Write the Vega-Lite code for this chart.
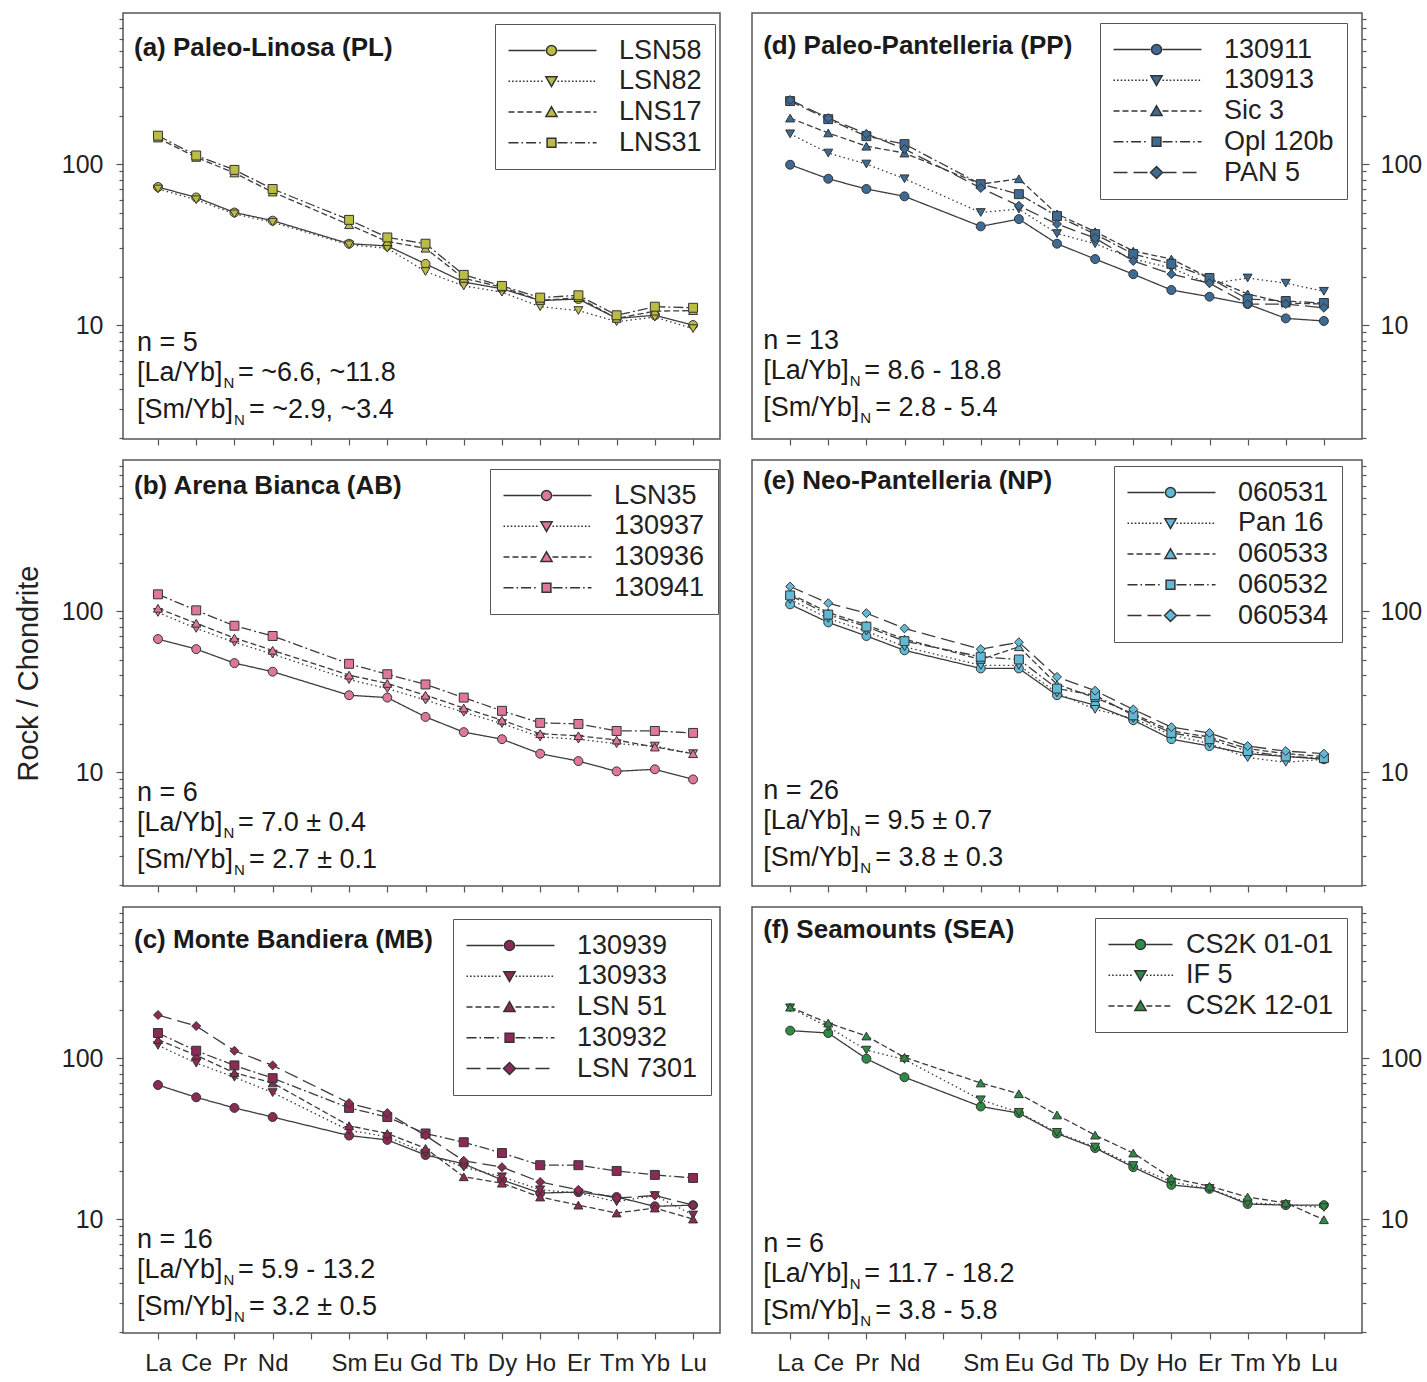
{
"$schema":"https://vega.github.io/schema/vega-lite/v6.json",
"autosize":{"type":"pad"},
"padding":{"left":13,"top":5,"right":0,"bottom":0},
"background":"white",
"bounds":"flush",
"columns":2,
"spacing":{"row":21,"column":32},
"resolve":{"scale":{"shape":"independent","strokeDash":"independent","color":"independent"},"legend":{"shape":"independent","strokeDash":"independent"}},
"config":{
 "font":"Liberation Sans",
 "view":{"stroke":"#555","strokeWidth":1.5},
 "axis":{"labelFont":"Liberation Sans","labelColor":"#222","tickColor":"#555","domain":false,"grid":false,"labelOverlap":false,"tickWidth":1.2},
 "legend":{"labelFont":"Liberation Sans","labelFontSize":27,"labelColor":"#222","padding":13,"rowPadding":2.75,"strokeColor":"#555","fillColor":"#ffffff","symbolSize":64,"labelOffset":84},
 "text":{"font":"Liberation Sans","fontSize":27,"align":"left","baseline":"alphabetic","color":"#1a1a1a"}
},
"datasets":{
"a":[
{"s":"LSN58","e":"La","v":72},{"s":"LSN58","e":"Ce","v":62},{"s":"LSN58","e":"Pr","v":50},{"s":"LSN58","e":"Nd","v":44.5},{"s":"LSN58","e":"Sm","v":32},{"s":"LSN58","e":"Eu","v":31},{"s":"LSN58","e":"Gd","v":24},{"s":"LSN58","e":"Tb","v":18.5},{"s":"LSN58","e":"Dy","v":16.8},{"s":"LSN58","e":"Ho","v":14.2},{"s":"LSN58","e":"Er","v":14.5},{"s":"LSN58","e":"Tm","v":11},{"s":"LSN58","e":"Yb","v":11.5},{"s":"LSN58","e":"Lu","v":10},
{"s":"LSN82","e":"La","v":70},{"s":"LSN82","e":"Ce","v":60},{"s":"LSN82","e":"Pr","v":49},{"s":"LSN82","e":"Nd","v":43.5},{"s":"LSN82","e":"Sm","v":31.5},{"s":"LSN82","e":"Eu","v":30},{"s":"LSN82","e":"Gd","v":21.5},{"s":"LSN82","e":"Tb","v":17.5},{"s":"LSN82","e":"Dy","v":16},{"s":"LSN82","e":"Ho","v":13},{"s":"LSN82","e":"Er","v":12.3},{"s":"LSN82","e":"Tm","v":10.5},{"s":"LSN82","e":"Yb","v":11.2},{"s":"LSN82","e":"Lu","v":9.5},
{"s":"LNS17","e":"La","v":145},{"s":"LNS17","e":"Ce","v":110},{"s":"LNS17","e":"Pr","v":88},{"s":"LNS17","e":"Nd","v":67},{"s":"LNS17","e":"Sm","v":42},{"s":"LNS17","e":"Eu","v":33},{"s":"LNS17","e":"Gd","v":30},{"s":"LNS17","e":"Tb","v":19.5},{"s":"LNS17","e":"Dy","v":17.2},{"s":"LNS17","e":"Ho","v":14.2},{"s":"LNS17","e":"Er","v":14.8},{"s":"LNS17","e":"Tm","v":11},{"s":"LNS17","e":"Yb","v":12.2},{"s":"LNS17","e":"Lu","v":12.3},
{"s":"LNS31","e":"La","v":150},{"s":"LNS31","e":"Ce","v":113},{"s":"LNS31","e":"Pr","v":92},{"s":"LNS31","e":"Nd","v":70},{"s":"LNS31","e":"Sm","v":45},{"s":"LNS31","e":"Eu","v":35},{"s":"LNS31","e":"Gd","v":32},{"s":"LNS31","e":"Tb","v":20.5},{"s":"LNS31","e":"Dy","v":17.5},{"s":"LNS31","e":"Ho","v":14.8},{"s":"LNS31","e":"Er","v":15.3},{"s":"LNS31","e":"Tm","v":11.5},{"s":"LNS31","e":"Yb","v":13},{"s":"LNS31","e":"Lu","v":12.8}
],
"b":[
{"s":"LSN35","e":"La","v":67},{"s":"LSN35","e":"Ce","v":58},{"s":"LSN35","e":"Pr","v":47.5},{"s":"LSN35","e":"Nd","v":42},{"s":"LSN35","e":"Sm","v":30},{"s":"LSN35","e":"Eu","v":29},{"s":"LSN35","e":"Gd","v":22},{"s":"LSN35","e":"Tb","v":17.7},{"s":"LSN35","e":"Dy","v":16},{"s":"LSN35","e":"Ho","v":13},{"s":"LSN35","e":"Er","v":11.7},{"s":"LSN35","e":"Tm","v":10.1},{"s":"LSN35","e":"Yb","v":10.4},{"s":"LSN35","e":"Lu","v":9},
{"s":"130937","e":"La","v":98},{"s":"130937","e":"Ce","v":78},{"s":"130937","e":"Pr","v":64},{"s":"130937","e":"Nd","v":54},{"s":"130937","e":"Sm","v":37.5},{"s":"130937","e":"Eu","v":33},{"s":"130937","e":"Gd","v":28},{"s":"130937","e":"Tb","v":23.5},{"s":"130937","e":"Dy","v":20},{"s":"130937","e":"Ho","v":16.5},{"s":"130937","e":"Er","v":16},{"s":"130937","e":"Tm","v":15},{"s":"130937","e":"Yb","v":14.5},{"s":"130937","e":"Lu","v":13},
{"s":"130936","e":"La","v":104},{"s":"130936","e":"Ce","v":84},{"s":"130936","e":"Pr","v":68},{"s":"130936","e":"Nd","v":57},{"s":"130936","e":"Sm","v":40},{"s":"130936","e":"Eu","v":35.5},{"s":"130936","e":"Gd","v":30},{"s":"130936","e":"Tb","v":25},{"s":"130936","e":"Dy","v":21},{"s":"130936","e":"Ho","v":17.3},{"s":"130936","e":"Er","v":16.8},{"s":"130936","e":"Tm","v":15.8},{"s":"130936","e":"Yb","v":14.3},{"s":"130936","e":"Lu","v":13},
{"s":"130941","e":"La","v":127},{"s":"130941","e":"Ce","v":101},{"s":"130941","e":"Pr","v":81},{"s":"130941","e":"Nd","v":70},{"s":"130941","e":"Sm","v":47},{"s":"130941","e":"Eu","v":40.5},{"s":"130941","e":"Gd","v":35},{"s":"130941","e":"Tb","v":29},{"s":"130941","e":"Dy","v":24},{"s":"130941","e":"Ho","v":20.2},{"s":"130941","e":"Er","v":19.9},{"s":"130941","e":"Tm","v":18},{"s":"130941","e":"Yb","v":18},{"s":"130941","e":"Lu","v":17.5}
],
"c":[
{"s":"130939","e":"La","v":68},{"s":"130939","e":"Ce","v":57},{"s":"130939","e":"Pr","v":49},{"s":"130939","e":"Nd","v":43},{"s":"130939","e":"Sm","v":33},{"s":"130939","e":"Eu","v":31},{"s":"130939","e":"Gd","v":25},{"s":"130939","e":"Tb","v":22},{"s":"130939","e":"Dy","v":17.5},{"s":"130939","e":"Ho","v":14.5},{"s":"130939","e":"Er","v":14.7},{"s":"130939","e":"Tm","v":13.7},{"s":"130939","e":"Yb","v":12},{"s":"130939","e":"Lu","v":12.2},
{"s":"130933","e":"La","v":120},{"s":"130933","e":"Ce","v":93},{"s":"130933","e":"Pr","v":76},{"s":"130933","e":"Nd","v":61},{"s":"130933","e":"Sm","v":35.5},{"s":"130933","e":"Eu","v":32.5},{"s":"130933","e":"Gd","v":25.7},{"s":"130933","e":"Tb","v":21},{"s":"130933","e":"Dy","v":18.3},{"s":"130933","e":"Ho","v":15.2},{"s":"130933","e":"Er","v":14.5},{"s":"130933","e":"Tm","v":12.8},{"s":"130933","e":"Yb","v":14},{"s":"130933","e":"Lu","v":10.6},
{"s":"LSN 51","e":"La","v":130},{"s":"LSN 51","e":"Ce","v":104},{"s":"LSN 51","e":"Pr","v":81},{"s":"LSN 51","e":"Nd","v":70},{"s":"LSN 51","e":"Sm","v":38},{"s":"LSN 51","e":"Eu","v":34},{"s":"LSN 51","e":"Gd","v":27.5},{"s":"LSN 51","e":"Tb","v":18.3},{"s":"LSN 51","e":"Dy","v":16.7},{"s":"LSN 51","e":"Ho","v":13.7},{"s":"LSN 51","e":"Er","v":12.2},{"s":"LSN 51","e":"Tm","v":10.9},{"s":"LSN 51","e":"Yb","v":11.7},{"s":"LSN 51","e":"Lu","v":10},
{"s":"130932","e":"La","v":143},{"s":"130932","e":"Ce","v":111},{"s":"130932","e":"Pr","v":90},{"s":"130932","e":"Nd","v":75},{"s":"130932","e":"Sm","v":49},{"s":"130932","e":"Eu","v":43},{"s":"130932","e":"Gd","v":34},{"s":"130932","e":"Tb","v":30},{"s":"130932","e":"Dy","v":25.7},{"s":"130932","e":"Ho","v":21.6},{"s":"130932","e":"Er","v":21.6},{"s":"130932","e":"Tm","v":19.9},{"s":"130932","e":"Yb","v":18.8},{"s":"130932","e":"Lu","v":18},
{"s":"LSN 7301","e":"La","v":185},{"s":"LSN 7301","e":"Ce","v":158},{"s":"LSN 7301","e":"Pr","v":111},{"s":"LSN 7301","e":"Nd","v":90},{"s":"LSN 7301","e":"Sm","v":52.5},{"s":"LSN 7301","e":"Eu","v":45.5},{"s":"LSN 7301","e":"Gd","v":33},{"s":"LSN 7301","e":"Tb","v":23},{"s":"LSN 7301","e":"Dy","v":21},{"s":"LSN 7301","e":"Ho","v":17},{"s":"LSN 7301","e":"Er","v":15.2},{"s":"LSN 7301","e":"Tm","v":13.5},{"s":"LSN 7301","e":"Yb","v":14},{"s":"LSN 7301","e":"Lu","v":12.2}
],
"d":[
{"s":"130911","e":"La","v":99},{"s":"130911","e":"Ce","v":81},{"s":"130911","e":"Pr","v":70},{"s":"130911","e":"Nd","v":63},{"s":"130911","e":"Sm","v":41},{"s":"130911","e":"Eu","v":45.5},{"s":"130911","e":"Gd","v":32},{"s":"130911","e":"Tb","v":25.7},{"s":"130911","e":"Dy","v":20.7},{"s":"130911","e":"Ho","v":16.5},{"s":"130911","e":"Er","v":15},{"s":"130911","e":"Tm","v":13.5},{"s":"130911","e":"Yb","v":11},{"s":"130911","e":"Lu","v":10.6},
{"s":"130913","e":"La","v":154},{"s":"130913","e":"Ce","v":117},{"s":"130913","e":"Pr","v":100},{"s":"130913","e":"Nd","v":81},{"s":"130913","e":"Sm","v":50},{"s":"130913","e":"Eu","v":52.5},{"s":"130913","e":"Gd","v":37},{"s":"130913","e":"Tb","v":32},{"s":"130913","e":"Dy","v":25.7},{"s":"130913","e":"Ho","v":22.6},{"s":"130913","e":"Er","v":18},{"s":"130913","e":"Tm","v":19.6},{"s":"130913","e":"Yb","v":18.2},{"s":"130913","e":"Lu","v":16.2},
{"s":"Sic 3","e":"La","v":193},{"s":"Sic 3","e":"Ce","v":156},{"s":"Sic 3","e":"Pr","v":129},{"s":"Sic 3","e":"Nd","v":117},{"s":"Sic 3","e":"Sm","v":75},{"s":"Sic 3","e":"Eu","v":81},{"s":"Sic 3","e":"Gd","v":49},{"s":"Sic 3","e":"Tb","v":38},{"s":"Sic 3","e":"Dy","v":28.8},{"s":"Sic 3","e":"Ho","v":25.7},{"s":"Sic 3","e":"Er","v":19.6},{"s":"Sic 3","e":"Tm","v":15.6},{"s":"Sic 3","e":"Yb","v":13.7},{"s":"Sic 3","e":"Lu","v":13.5},
{"s":"Opl 120b","e":"La","v":246},{"s":"Opl 120b","e":"Ce","v":190},{"s":"Opl 120b","e":"Pr","v":149},{"s":"Opl 120b","e":"Nd","v":133},{"s":"Opl 120b","e":"Sm","v":75},{"s":"Opl 120b","e":"Eu","v":65},{"s":"Opl 120b","e":"Gd","v":47.5},{"s":"Opl 120b","e":"Tb","v":36.7},{"s":"Opl 120b","e":"Dy","v":27.6},{"s":"Opl 120b","e":"Ho","v":24},{"s":"Opl 120b","e":"Er","v":19.6},{"s":"Opl 120b","e":"Tm","v":14.5},{"s":"Opl 120b","e":"Yb","v":14.1},{"s":"Opl 120b","e":"Lu","v":13.7},
{"s":"PAN 5","e":"La","v":250},{"s":"PAN 5","e":"Ce","v":193},{"s":"PAN 5","e":"Pr","v":154},{"s":"PAN 5","e":"Nd","v":124},{"s":"PAN 5","e":"Sm","v":71},{"s":"PAN 5","e":"Eu","v":55},{"s":"PAN 5","e":"Gd","v":42.4},{"s":"PAN 5","e":"Tb","v":34.7},{"s":"PAN 5","e":"Dy","v":25},{"s":"PAN 5","e":"Ho","v":20.7},{"s":"PAN 5","e":"Er","v":18.2},{"s":"PAN 5","e":"Tm","v":13.5},{"s":"PAN 5","e":"Yb","v":13.5},{"s":"PAN 5","e":"Lu","v":12.8}
],
"e":[
{"s":"060531","e":"La","v":110},{"s":"060531","e":"Ce","v":85},{"s":"060531","e":"Pr","v":70},{"s":"060531","e":"Nd","v":57},{"s":"060531","e":"Sm","v":44},{"s":"060531","e":"Eu","v":44},{"s":"060531","e":"Gd","v":30},{"s":"060531","e":"Tb","v":26},{"s":"060531","e":"Dy","v":21},{"s":"060531","e":"Ho","v":16},{"s":"060531","e":"Er","v":14.5},{"s":"060531","e":"Tm","v":13},{"s":"060531","e":"Yb","v":12.5},{"s":"060531","e":"Lu","v":12},
{"s":"Pan 16","e":"La","v":118},{"s":"Pan 16","e":"Ce","v":90},{"s":"Pan 16","e":"Pr","v":75},{"s":"Pan 16","e":"Nd","v":60},{"s":"Pan 16","e":"Sm","v":46},{"s":"Pan 16","e":"Eu","v":46},{"s":"Pan 16","e":"Gd","v":31},{"s":"Pan 16","e":"Tb","v":24.5},{"s":"Pan 16","e":"Dy","v":21.5},{"s":"Pan 16","e":"Ho","v":17},{"s":"Pan 16","e":"Er","v":15},{"s":"Pan 16","e":"Tm","v":12.3},{"s":"Pan 16","e":"Yb","v":11.5},{"s":"Pan 16","e":"Lu","v":12},
{"s":"060533","e":"La","v":128},{"s":"060533","e":"Ce","v":98},{"s":"060533","e":"Pr","v":82},{"s":"060533","e":"Nd","v":67},{"s":"060533","e":"Sm","v":50},{"s":"060533","e":"Eu","v":60},{"s":"060533","e":"Gd","v":35},{"s":"060533","e":"Tb","v":29},{"s":"060533","e":"Dy","v":23},{"s":"060533","e":"Ho","v":18},{"s":"060533","e":"Er","v":16.5},{"s":"060533","e":"Tm","v":14},{"s":"060533","e":"Yb","v":13},{"s":"060533","e":"Lu","v":12.5},
{"s":"060532","e":"La","v":125},{"s":"060532","e":"Ce","v":95},{"s":"060532","e":"Pr","v":80},{"s":"060532","e":"Nd","v":65},{"s":"060532","e":"Sm","v":52},{"s":"060532","e":"Eu","v":50},{"s":"060532","e":"Gd","v":33},{"s":"060532","e":"Tb","v":30},{"s":"060532","e":"Dy","v":22.5},{"s":"060532","e":"Ho","v":17.5},{"s":"060532","e":"Er","v":16},{"s":"060532","e":"Tm","v":13.5},{"s":"060532","e":"Yb","v":12.5},{"s":"060532","e":"Lu","v":12.2},
{"s":"060534","e":"La","v":142},{"s":"060534","e":"Ce","v":112},{"s":"060534","e":"Pr","v":97},{"s":"060534","e":"Nd","v":78},{"s":"060534","e":"Sm","v":58},{"s":"060534","e":"Eu","v":64},{"s":"060534","e":"Gd","v":39},{"s":"060534","e":"Tb","v":32},{"s":"060534","e":"Dy","v":24.5},{"s":"060534","e":"Ho","v":19},{"s":"060534","e":"Er","v":17.5},{"s":"060534","e":"Tm","v":14.5},{"s":"060534","e":"Yb","v":13.5},{"s":"060534","e":"Lu","v":13}
],
"f":[
{"s":"CS2K 01-01","e":"La","v":148},{"s":"CS2K 01-01","e":"Ce","v":143},{"s":"CS2K 01-01","e":"Pr","v":99},{"s":"CS2K 01-01","e":"Nd","v":76},{"s":"CS2K 01-01","e":"Sm","v":50},{"s":"CS2K 01-01","e":"Eu","v":45.5},{"s":"CS2K 01-01","e":"Gd","v":34},{"s":"CS2K 01-01","e":"Tb","v":27.6},{"s":"CS2K 01-01","e":"Dy","v":21},{"s":"CS2K 01-01","e":"Ho","v":16.3},{"s":"CS2K 01-01","e":"Er","v":15.4},{"s":"CS2K 01-01","e":"Tm","v":12.4},{"s":"CS2K 01-01","e":"Yb","v":12.2},{"s":"CS2K 01-01","e":"Lu","v":12.2},
{"s":"IF 5","e":"La","v":205},{"s":"IF 5","e":"Ce","v":156},{"s":"IF 5","e":"Pr","v":112},{"s":"IF 5","e":"Nd","v":98},{"s":"IF 5","e":"Sm","v":55},{"s":"IF 5","e":"Eu","v":46},{"s":"IF 5","e":"Gd","v":34.5},{"s":"IF 5","e":"Tb","v":28},{"s":"IF 5","e":"Dy","v":21.5},{"s":"IF 5","e":"Ho","v":17},{"s":"IF 5","e":"Er","v":15.5},{"s":"IF 5","e":"Tm","v":12.6},{"s":"IF 5","e":"Yb","v":12.3},{"s":"IF 5","e":"Lu","v":11.8},
{"s":"CS2K 12-01","e":"La","v":207},{"s":"CS2K 12-01","e":"Ce","v":165},{"s":"CS2K 12-01","e":"Pr","v":137},{"s":"CS2K 12-01","e":"Nd","v":101},{"s":"CS2K 12-01","e":"Sm","v":70},{"s":"CS2K 12-01","e":"Eu","v":60},{"s":"CS2K 12-01","e":"Gd","v":44.3},{"s":"CS2K 12-01","e":"Tb","v":33.2},{"s":"CS2K 12-01","e":"Dy","v":25.7},{"s":"CS2K 12-01","e":"Ho","v":18},{"s":"CS2K 12-01","e":"Er","v":16},{"s":"CS2K 12-01","e":"Tm","v":13.7},{"s":"CS2K 12-01","e":"Yb","v":12.6},{"s":"CS2K 12-01","e":"Lu","v":9.9}
]
},
"concat":[
{
 "width":597,"height":426,"data":{"name":"a"},
 "resolve":{"scale":{"shape":"independent"}},
 "layer":[
  {"mark":{"type":"line","color":"#3d3d3d","strokeWidth":1.3},
   "encoding":{
    "x":{"field":"e","type":"ordinal","scale":{"type":"point","domain":["La","Ce","Pr","Nd","Pm","Sm","Eu","Gd","Tb","Dy","Ho","Er","Tm","Yb","Lu"],"padding":0.81,"align":0.565},"axis":{"orient":"bottom","labels":false,"tickSize":6,"title":null}},
    "y":{"field":"v","type":"quantitative","scale":{"type":"log","domain":[1.96,867],"nice":false},"axis":{"orient":"left","values":[2,3,4,5,6,7,8,9,10,20,30,40,50,60,70,80,90,100,200,300,400,500,600,700,800],"labelExpr":"datum.value==10?'10':datum.value==100?'100':''","tickSize":{"condition":{"test":"datum.value==10||datum.value==100","value":7},"value":4},"labelPadding":13,"labelFontSize":25,"title":null}},
    "strokeDash":{"field":"s","type":"nominal","scale":{"domain":["LSN58","LSN82","LNS17","LNS31"],"range":[[1,0],[1.5,3],[6,3],[10,3,2,3]]},"legend":null},
    "order":{"value":null}}},
  {"mark":{"type":"point","filled":true,"color":"#bcbc45","stroke":"#333","strokeWidth":1,"size":80,"opacity":1},
   "encoding":{"x":{"field":"e","type":"ordinal"},"y":{"field":"v","type":"quantitative"},
    "shape":{"field":"s","type":"nominal","scale":{"domain":["LSN58","LSN82","LNS17","LNS31"],"range":["circle","triangle-down","triangle-up","square"]},"legend":null}}},
  {"data":{"values":[]},
   "mark":{"type":"point","filled":true,"color":"#bcbc45","stroke":"#333","strokeWidth":1.2,"size":64,"opacity":1},
   "encoding":{"shape":{"field":"s","type":"nominal","scale":{"domain":["LSN58","LSN82","LNS17","LNS31"],"range":[
    "M-3.25,0H6M9,0H18.75M8.75,0A1.25,1.25,0,1,1,6.25,0A1.25,1.25,0,1,1,8.75,0Z",
    "M-3.25,0h0.4m0.5,0h0.4m0.5,0h0.4m0.5,0h0.4m0.5,0h0.4m0.5,0h0.4m0.5,0h0.4m0.5,0h0.4m0.5,0h0.4m0.5,0h0.4M9,0h0.4m0.5,0h0.4m0.5,0h0.4m0.5,0h0.4m0.5,0h0.4m0.5,0h0.4m0.5,0h0.4m0.5,0h0.4m0.5,0h0.4m0.5,0h0.4m0.5,0h0.4M6.1,-1.1L8.9,-1.1L7.5,1.3Z",
    "M-3.25,0H-1.75M-1,0H0.5M1.25,0H2.75M3.5,0H5M9,0H10.5M11.25,0H12.75M13.5,0H15M15.75,0H17.25M18,0H18.75M6.1,1.1L8.9,1.1L7.5,-1.3Z",
    "M-3.25,0H-0.75M0,0H0.4M1.15,0H3.65M4.4,0H4.8M9,0H11.5M12.25,0H12.65M13.4,0H15.9M16.65,0H17.05M17.8,0H18.75M6.4,-1.1H8.6V1.1H6.4Z"]},
    "legend":{"title":null,"orient":"none","legendX":372,"legendY":11}}}},
  {"data":{"values":[{}]},
   "encoding":{"x":{"datum":"La","type":"ordinal"}},
   "layer":[
    {"mark":{"type":"text","fontWeight":"bold","fontSize":26,"dx":-24},"encoding":{"y":{"datum":469,"type":"quantitative"},"text":{"value":"(a) Paleo-Linosa (PL)"}}},
    {"mark":{"type":"text","dx":-21},"encoding":{"y":{"datum":6.9,"type":"quantitative"},"text":{"value":"n = 5"}}},
    {"mark":{"type":"text","dx":-21,"dy":30,"lineHeight":37},"encoding":{"y":{"datum":6.9,"type":"quantitative"},"text":{"value":["[La/Yb]","[Sm/Yb]"]}}},
    {"mark":{"type":"text","fontSize":15,"dx":65.5,"dy":37},"encoding":{"y":{"datum":6.9,"type":"quantitative"},"text":{"value":"N"}}},
    {"mark":{"type":"text","fontSize":15,"dx":76,"dy":74},"encoding":{"y":{"datum":6.9,"type":"quantitative"},"text":{"value":"N"}}},
    {"mark":{"type":"text","dx":80,"dy":30},"encoding":{"y":{"datum":6.9,"type":"quantitative"},"text":{"value":"= ~6.6, ~11.8"}}},
    {"mark":{"type":"text","dx":91,"dy":67},"encoding":{"y":{"datum":6.9,"type":"quantitative"},"text":{"value":"= ~2.9, ~3.4"}}}
   ]}
 ]
},
{
 "width":610,"height":426,"data":{"name":"d"},
 "resolve":{"scale":{"shape":"independent"}},
 "layer":[
  {"mark":{"type":"line","color":"#3d3d3d","strokeWidth":1.3},
   "encoding":{
    "x":{"field":"e","type":"ordinal","scale":{"type":"point","domain":["La","Ce","Pr","Nd","Pm","Sm","Eu","Gd","Tb","Dy","Ho","Er","Tm","Yb","Lu"],"padding":1},"axis":{"orient":"bottom","labels":false,"tickSize":6,"title":null}},
    "y":{"field":"v","type":"quantitative","scale":{"type":"log","domain":[1.96,867],"nice":false},"axis":{"orient":"right","values":[2,3,4,5,6,7,8,9,10,20,30,40,50,60,70,80,90,100,200,300,400,500,600,700,800],"labelExpr":"datum.value==10?'10':datum.value==100?'100':''","tickSize":{"condition":{"test":"datum.value==10||datum.value==100","value":7},"value":4},"labelPadding":11,"labelFontSize":25,"title":null}},
    "strokeDash":{"field":"s","type":"nominal","scale":{"domain":["130911","130913","Sic 3","Opl 120b","PAN 5"],"range":[[1,0],[1.5,3],[6,3],[10,3,2,3],[14,6]]},"legend":null},
    "order":{"value":null}}},
  {"mark":{"type":"point","filled":true,"color":"#3d6b94","stroke":"#333","strokeWidth":1,"size":80,"opacity":1},
   "encoding":{"x":{"field":"e","type":"ordinal"},"y":{"field":"v","type":"quantitative"},
    "shape":{"field":"s","type":"nominal","scale":{"domain":["130911","130913","Sic 3","Opl 120b","PAN 5"],"range":["circle","triangle-down","triangle-up","square","diamond"]},"legend":null}}},
  {"data":{"values":[]},
   "mark":{"type":"point","filled":true,"color":"#3d6b94","stroke":"#333","strokeWidth":1.2,"size":64,"opacity":1},
   "encoding":{"shape":{"field":"s","type":"nominal","scale":{"domain":["130911","130913","Sic 3","Opl 120b","PAN 5"],"range":[
    "M-3.25,0H6M9,0H18.75M8.75,0A1.25,1.25,0,1,1,6.25,0A1.25,1.25,0,1,1,8.75,0Z",
    "M-3.25,0h0.4m0.5,0h0.4m0.5,0h0.4m0.5,0h0.4m0.5,0h0.4m0.5,0h0.4m0.5,0h0.4m0.5,0h0.4m0.5,0h0.4m0.5,0h0.4M9,0h0.4m0.5,0h0.4m0.5,0h0.4m0.5,0h0.4m0.5,0h0.4m0.5,0h0.4m0.5,0h0.4m0.5,0h0.4m0.5,0h0.4m0.5,0h0.4m0.5,0h0.4M6.1,-1.1L8.9,-1.1L7.5,1.3Z",
    "M-3.25,0H-1.75M-1,0H0.5M1.25,0H2.75M3.5,0H5M9,0H10.5M11.25,0H12.75M13.5,0H15M15.75,0H17.25M18,0H18.75M6.1,1.1L8.9,1.1L7.5,-1.3Z",
    "M-3.25,0H-0.75M0,0H0.4M1.15,0H3.65M4.4,0H4.8M9,0H11.5M12.25,0H12.65M13.4,0H15.9M16.65,0H17.05M17.8,0H18.75M6.4,-1.1H8.6V1.1H6.4Z",
    "M-3.25,0H0.25M1.75,0H5.25M9,0H12.5M14,0H17.5M7.5,-1.5L9,0L7.5,1.5L6,0Z"]},
    "legend":{"title":null,"orient":"none","legendX":348,"legendY":10}}}},
  {"data":{"values":[{}]},
   "encoding":{"x":{"datum":"La","type":"ordinal"}},
   "layer":[
    {"mark":{"type":"text","fontWeight":"bold","fontSize":26,"dx":-27},"encoding":{"y":{"datum":482,"type":"quantitative"},"text":{"value":"(d) Paleo-Pantelleria (PP)"}}},
    {"mark":{"type":"text","dx":-27},"encoding":{"y":{"datum":7.1,"type":"quantitative"},"text":{"value":"n = 13"}}},
    {"mark":{"type":"text","dx":-27,"dy":30,"lineHeight":37},"encoding":{"y":{"datum":7.1,"type":"quantitative"},"text":{"value":["[La/Yb]","[Sm/Yb]"]}}},
    {"mark":{"type":"text","fontSize":15,"dx":59.5,"dy":37},"encoding":{"y":{"datum":7.1,"type":"quantitative"},"text":{"value":"N"}}},
    {"mark":{"type":"text","fontSize":15,"dx":70,"dy":74},"encoding":{"y":{"datum":7.1,"type":"quantitative"},"text":{"value":"N"}}},
    {"mark":{"type":"text","dx":74,"dy":30},"encoding":{"y":{"datum":7.1,"type":"quantitative"},"text":{"value":"= 8.6 - 18.8"}}},
    {"mark":{"type":"text","dx":85,"dy":67},"encoding":{"y":{"datum":7.1,"type":"quantitative"},"text":{"value":"= 2.8 - 5.4"}}}
   ]}
 ]
},
{
 "width":597,"height":426,"data":{"name":"b"},
 "resolve":{"scale":{"shape":"independent"}},
 "layer":[
  {"mark":{"type":"line","color":"#3d3d3d","strokeWidth":1.3},
   "encoding":{
    "x":{"field":"e","type":"ordinal","scale":{"type":"point","domain":["La","Ce","Pr","Nd","Pm","Sm","Eu","Gd","Tb","Dy","Ho","Er","Tm","Yb","Lu"],"padding":0.81,"align":0.565},"axis":{"orient":"bottom","labels":false,"tickSize":6,"title":null}},
    "y":{"field":"v","type":"quantitative","scale":{"type":"log","domain":[1.96,867],"nice":false},"axis":{"orient":"left","values":[2,3,4,5,6,7,8,9,10,20,30,40,50,60,70,80,90,100,200,300,400,500,600,700,800],"labelExpr":"datum.value==10?'10':datum.value==100?'100':''","tickSize":{"condition":{"test":"datum.value==10||datum.value==100","value":7},"value":4},"labelPadding":13,"labelFontSize":25,"title":"Rock / Chondrite","titleX":-95,"titleY":213,"titleAngle":270,"titleAlign":"center","titleBaseline":"middle","titleFontSize":29,"titleFontWeight":"normal","titleColor":"#222","titleFont":"Liberation Sans"}},
    "strokeDash":{"field":"s","type":"nominal","scale":{"domain":["LSN35","130937","130936","130941"],"range":[[1,0],[1.5,3],[6,3],[10,3,2,3]]},"legend":null},
    "order":{"value":null}}},
  {"mark":{"type":"point","filled":true,"color":"#df7898","stroke":"#333","strokeWidth":1,"size":80,"opacity":1},
   "encoding":{"x":{"field":"e","type":"ordinal"},"y":{"field":"v","type":"quantitative"},
    "shape":{"field":"s","type":"nominal","scale":{"domain":["LSN35","130937","130936","130941"],"range":["circle","triangle-down","triangle-up","square"]},"legend":null}}},
  {"data":{"values":[]},
   "mark":{"type":"point","filled":true,"color":"#df7898","stroke":"#333","strokeWidth":1.2,"size":64,"opacity":1},
   "encoding":{"shape":{"field":"s","type":"nominal","scale":{"domain":["LSN35","130937","130936","130941"],"range":[
    "M-3.25,0H6M9,0H18.75M8.75,0A1.25,1.25,0,1,1,6.25,0A1.25,1.25,0,1,1,8.75,0Z",
    "M-3.25,0h0.4m0.5,0h0.4m0.5,0h0.4m0.5,0h0.4m0.5,0h0.4m0.5,0h0.4m0.5,0h0.4m0.5,0h0.4m0.5,0h0.4m0.5,0h0.4M9,0h0.4m0.5,0h0.4m0.5,0h0.4m0.5,0h0.4m0.5,0h0.4m0.5,0h0.4m0.5,0h0.4m0.5,0h0.4m0.5,0h0.4m0.5,0h0.4m0.5,0h0.4M6.1,-1.1L8.9,-1.1L7.5,1.3Z",
    "M-3.25,0H-1.75M-1,0H0.5M1.25,0H2.75M3.5,0H5M9,0H10.5M11.25,0H12.75M13.5,0H15M15.75,0H17.25M18,0H18.75M6.1,1.1L8.9,1.1L7.5,-1.3Z",
    "M-3.25,0H-0.75M0,0H0.4M1.15,0H3.65M4.4,0H4.8M9,0H11.5M12.25,0H12.65M13.4,0H15.9M16.65,0H17.05M17.8,0H18.75M6.4,-1.1H8.6V1.1H6.4Z"]},
    "legend":{"title":null,"orient":"none","legendX":367,"legendY":9}}}},
  {"data":{"values":[{}]},
   "encoding":{"x":{"datum":"La","type":"ordinal"}},
   "layer":[
    {"mark":{"type":"text","fontWeight":"bold","fontSize":26,"dx":-24},"encoding":{"y":{"datum":533,"type":"quantitative"},"text":{"value":"(b) Arena Bianca (AB)"}}},
    {"mark":{"type":"text","dx":-21},"encoding":{"y":{"datum":6.6,"type":"quantitative"},"text":{"value":"n = 6"}}},
    {"mark":{"type":"text","dx":-21,"dy":30,"lineHeight":37},"encoding":{"y":{"datum":6.6,"type":"quantitative"},"text":{"value":["[La/Yb]","[Sm/Yb]"]}}},
    {"mark":{"type":"text","fontSize":15,"dx":65.5,"dy":37},"encoding":{"y":{"datum":6.6,"type":"quantitative"},"text":{"value":"N"}}},
    {"mark":{"type":"text","fontSize":15,"dx":76,"dy":74},"encoding":{"y":{"datum":6.6,"type":"quantitative"},"text":{"value":"N"}}},
    {"mark":{"type":"text","dx":80,"dy":30},"encoding":{"y":{"datum":6.6,"type":"quantitative"},"text":{"value":"= 7.0 ± 0.4"}}},
    {"mark":{"type":"text","dx":91,"dy":67},"encoding":{"y":{"datum":6.6,"type":"quantitative"},"text":{"value":"= 2.7 ± 0.1"}}}
   ]}
 ]
},
{
 "width":610,"height":426,"data":{"name":"e"},
 "resolve":{"scale":{"shape":"independent"}},
 "layer":[
  {"mark":{"type":"line","color":"#3d3d3d","strokeWidth":1.3},
   "encoding":{
    "x":{"field":"e","type":"ordinal","scale":{"type":"point","domain":["La","Ce","Pr","Nd","Pm","Sm","Eu","Gd","Tb","Dy","Ho","Er","Tm","Yb","Lu"],"padding":1},"axis":{"orient":"bottom","labels":false,"tickSize":6,"title":null}},
    "y":{"field":"v","type":"quantitative","scale":{"type":"log","domain":[1.96,867],"nice":false},"axis":{"orient":"right","values":[2,3,4,5,6,7,8,9,10,20,30,40,50,60,70,80,90,100,200,300,400,500,600,700,800],"labelExpr":"datum.value==10?'10':datum.value==100?'100':''","tickSize":{"condition":{"test":"datum.value==10||datum.value==100","value":7},"value":4},"labelPadding":11,"labelFontSize":25,"title":null}},
    "strokeDash":{"field":"s","type":"nominal","scale":{"domain":["060531","Pan 16","060533","060532","060534"],"range":[[1,0],[1.5,3],[6,3],[10,3,2,3],[14,6]]},"legend":null},
    "order":{"value":null}}},
  {"mark":{"type":"point","filled":true,"color":"#62b9d6","stroke":"#333","strokeWidth":1,"size":80,"opacity":1},
   "encoding":{"x":{"field":"e","type":"ordinal"},"y":{"field":"v","type":"quantitative"},
    "shape":{"field":"s","type":"nominal","scale":{"domain":["060531","Pan 16","060533","060532","060534"],"range":["circle","triangle-down","triangle-up","square","diamond"]},"legend":null}}},
  {"data":{"values":[]},
   "mark":{"type":"point","filled":true,"color":"#62b9d6","stroke":"#333","strokeWidth":1.2,"size":64,"opacity":1},
   "encoding":{"shape":{"field":"s","type":"nominal","scale":{"domain":["060531","Pan 16","060533","060532","060534"],"range":[
    "M-3.25,0H6M9,0H18.75M8.75,0A1.25,1.25,0,1,1,6.25,0A1.25,1.25,0,1,1,8.75,0Z",
    "M-3.25,0h0.4m0.5,0h0.4m0.5,0h0.4m0.5,0h0.4m0.5,0h0.4m0.5,0h0.4m0.5,0h0.4m0.5,0h0.4m0.5,0h0.4m0.5,0h0.4M9,0h0.4m0.5,0h0.4m0.5,0h0.4m0.5,0h0.4m0.5,0h0.4m0.5,0h0.4m0.5,0h0.4m0.5,0h0.4m0.5,0h0.4m0.5,0h0.4m0.5,0h0.4M6.1,-1.1L8.9,-1.1L7.5,1.3Z",
    "M-3.25,0H-1.75M-1,0H0.5M1.25,0H2.75M3.5,0H5M9,0H10.5M11.25,0H12.75M13.5,0H15M15.75,0H17.25M18,0H18.75M6.1,1.1L8.9,1.1L7.5,-1.3Z",
    "M-3.25,0H-0.75M0,0H0.4M1.15,0H3.65M4.4,0H4.8M9,0H11.5M12.25,0H12.65M13.4,0H15.9M16.65,0H17.05M17.8,0H18.75M6.4,-1.1H8.6V1.1H6.4Z",
    "M-3.25,0H0.25M1.75,0H5.25M9,0H12.5M14,0H17.5M7.5,-1.5L9,0L7.5,1.5L6,0Z"]},
    "legend":{"title":null,"orient":"none","legendX":362,"legendY":6}}}},
  {"data":{"values":[{}]},
   "encoding":{"x":{"datum":"La","type":"ordinal"}},
   "layer":[
    {"mark":{"type":"text","fontWeight":"bold","fontSize":26,"dx":-27},"encoding":{"y":{"datum":573,"type":"quantitative"},"text":{"value":"(e) Neo-Pantelleria (NP)"}}},
    {"mark":{"type":"text","dx":-27},"encoding":{"y":{"datum":6.8,"type":"quantitative"},"text":{"value":"n = 26"}}},
    {"mark":{"type":"text","dx":-27,"dy":30,"lineHeight":37},"encoding":{"y":{"datum":6.8,"type":"quantitative"},"text":{"value":["[La/Yb]","[Sm/Yb]"]}}},
    {"mark":{"type":"text","fontSize":15,"dx":59.5,"dy":37},"encoding":{"y":{"datum":6.8,"type":"quantitative"},"text":{"value":"N"}}},
    {"mark":{"type":"text","fontSize":15,"dx":70,"dy":74},"encoding":{"y":{"datum":6.8,"type":"quantitative"},"text":{"value":"N"}}},
    {"mark":{"type":"text","dx":74,"dy":30},"encoding":{"y":{"datum":6.8,"type":"quantitative"},"text":{"value":"= 9.5 ± 0.7"}}},
    {"mark":{"type":"text","dx":85,"dy":67},"encoding":{"y":{"datum":6.8,"type":"quantitative"},"text":{"value":"= 3.8 ± 0.3"}}}
   ]}
 ]
},
{
 "width":597,"height":426,"data":{"name":"c"},
 "resolve":{"scale":{"shape":"independent"}},
 "layer":[
  {"mark":{"type":"line","color":"#3d3d3d","strokeWidth":1.3},
   "encoding":{
    "x":{"field":"e","type":"ordinal","scale":{"type":"point","domain":["La","Ce","Pr","Nd","Pm","Sm","Eu","Gd","Tb","Dy","Ho","Er","Tm","Yb","Lu"],"padding":0.81,"align":0.565},"axis":{"orient":"bottom","labelExpr":"datum.value=='Pm'?'':datum.value","labelAngle":0,"labelFontSize":24,"labelPadding":12,"tickSize":6,"title":null}},
    "y":{"field":"v","type":"quantitative","scale":{"type":"log","domain":[1.96,867],"nice":false},"axis":{"orient":"left","values":[2,3,4,5,6,7,8,9,10,20,30,40,50,60,70,80,90,100,200,300,400,500,600,700,800],"labelExpr":"datum.value==10?'10':datum.value==100?'100':''","tickSize":{"condition":{"test":"datum.value==10||datum.value==100","value":7},"value":4},"labelPadding":13,"labelFontSize":25,"title":null}},
    "strokeDash":{"field":"s","type":"nominal","scale":{"domain":["130939","130933","LSN 51","130932","LSN 7301"],"range":[[1,0],[1.5,3],[6,3],[10,3,2,3],[14,6]]},"legend":null},
    "order":{"value":null}}},
  {"mark":{"type":"point","filled":true,"color":"#8b2a55","stroke":"#333","strokeWidth":1,"size":80,"opacity":1},
   "encoding":{"x":{"field":"e","type":"ordinal"},"y":{"field":"v","type":"quantitative"},
    "shape":{"field":"s","type":"nominal","scale":{"domain":["130939","130933","LSN 51","130932","LSN 7301"],"range":["circle","triangle-down","triangle-up","square","diamond"]},"legend":null}}},
  {"data":{"values":[]},
   "mark":{"type":"point","filled":true,"color":"#8b2a55","stroke":"#333","strokeWidth":1.2,"size":64,"opacity":1},
   "encoding":{"shape":{"field":"s","type":"nominal","scale":{"domain":["130939","130933","LSN 51","130932","LSN 7301"],"range":[
    "M-3.25,0H6M9,0H18.75M8.75,0A1.25,1.25,0,1,1,6.25,0A1.25,1.25,0,1,1,8.75,0Z",
    "M-3.25,0h0.4m0.5,0h0.4m0.5,0h0.4m0.5,0h0.4m0.5,0h0.4m0.5,0h0.4m0.5,0h0.4m0.5,0h0.4m0.5,0h0.4m0.5,0h0.4M9,0h0.4m0.5,0h0.4m0.5,0h0.4m0.5,0h0.4m0.5,0h0.4m0.5,0h0.4m0.5,0h0.4m0.5,0h0.4m0.5,0h0.4m0.5,0h0.4m0.5,0h0.4M6.1,-1.1L8.9,-1.1L7.5,1.3Z",
    "M-3.25,0H-1.75M-1,0H0.5M1.25,0H2.75M3.5,0H5M9,0H10.5M11.25,0H12.75M13.5,0H15M15.75,0H17.25M18,0H18.75M6.1,1.1L8.9,1.1L7.5,-1.3Z",
    "M-3.25,0H-0.75M0,0H0.4M1.15,0H3.65M4.4,0H4.8M9,0H11.5M12.25,0H12.65M13.4,0H15.9M16.65,0H17.05M17.8,0H18.75M6.4,-1.1H8.6V1.1H6.4Z",
    "M-3.25,0H0.25M1.75,0H5.25M9,0H12.5M14,0H17.5M7.5,-1.5L9,0L7.5,1.5L6,0Z"]},
    "legend":{"title":null,"orient":"none","legendX":330,"legendY":12}}}},
  {"data":{"values":[{}]},
   "encoding":{"x":{"datum":"La","type":"ordinal"}},
   "layer":[
    {"mark":{"type":"text","fontWeight":"bold","fontSize":26,"dx":-24},"encoding":{"y":{"datum":482,"type":"quantitative"},"text":{"value":"(c) Monte Bandiera (MB)"}}},
    {"mark":{"type":"text","dx":-21},"encoding":{"y":{"datum":6.6,"type":"quantitative"},"text":{"value":"n = 16"}}},
    {"mark":{"type":"text","dx":-21,"dy":30,"lineHeight":37},"encoding":{"y":{"datum":6.6,"type":"quantitative"},"text":{"value":["[La/Yb]","[Sm/Yb]"]}}},
    {"mark":{"type":"text","fontSize":15,"dx":65.5,"dy":37},"encoding":{"y":{"datum":6.6,"type":"quantitative"},"text":{"value":"N"}}},
    {"mark":{"type":"text","fontSize":15,"dx":76,"dy":74},"encoding":{"y":{"datum":6.6,"type":"quantitative"},"text":{"value":"N"}}},
    {"mark":{"type":"text","dx":80,"dy":30},"encoding":{"y":{"datum":6.6,"type":"quantitative"},"text":{"value":"= 5.9 - 13.2"}}},
    {"mark":{"type":"text","dx":91,"dy":67},"encoding":{"y":{"datum":6.6,"type":"quantitative"},"text":{"value":"= 3.2 ± 0.5"}}}
   ]}
 ]
},
{
 "width":610,"height":426,"data":{"name":"f"},
 "resolve":{"scale":{"shape":"independent"}},
 "layer":[
  {"mark":{"type":"line","color":"#3d3d3d","strokeWidth":1.3},
   "encoding":{
    "x":{"field":"e","type":"ordinal","scale":{"type":"point","domain":["La","Ce","Pr","Nd","Pm","Sm","Eu","Gd","Tb","Dy","Ho","Er","Tm","Yb","Lu"],"padding":1},"axis":{"orient":"bottom","labelExpr":"datum.value=='Pm'?'':datum.value","labelAngle":0,"labelFontSize":24,"labelPadding":12,"tickSize":6,"title":null}},
    "y":{"field":"v","type":"quantitative","scale":{"type":"log","domain":[1.96,867],"nice":false},"axis":{"orient":"right","values":[2,3,4,5,6,7,8,9,10,20,30,40,50,60,70,80,90,100,200,300,400,500,600,700,800],"labelExpr":"datum.value==10?'10':datum.value==100?'100':''","tickSize":{"condition":{"test":"datum.value==10||datum.value==100","value":7},"value":4},"labelPadding":11,"labelFontSize":25,"title":null}},
    "strokeDash":{"field":"s","type":"nominal","scale":{"domain":["CS2K 01-01","IF 5","CS2K 12-01"],"range":[[1,0],[1.5,3],[6,3]]},"legend":null},
    "order":{"value":null}}},
  {"mark":{"type":"point","filled":true,"color":"#2e8b45","stroke":"#333","strokeWidth":1,"size":80,"opacity":1},
   "encoding":{"x":{"field":"e","type":"ordinal"},"y":{"field":"v","type":"quantitative"},
    "shape":{"field":"s","type":"nominal","scale":{"domain":["CS2K 01-01","IF 5","CS2K 12-01"],"range":["circle","triangle-down","triangle-up"]},"legend":null}}},
  {"data":{"values":[]},
   "mark":{"type":"point","filled":true,"color":"#2e8b45","stroke":"#333","strokeWidth":1.2,"size":64,"opacity":1},
   "encoding":{"shape":{"field":"s","type":"nominal","scale":{"domain":["CS2K 01-01","IF 5","CS2K 12-01"],"range":[
    "M-3.25,0H3.3M6.2,0H12.75M6,0A1.25,1.25,0,1,1,3.5,0A1.25,1.25,0,1,1,6,0Z",
    "M-3.25,0h0.4m0.5,0h0.4m0.5,0h0.4m0.5,0h0.4m0.5,0h0.4m0.5,0h0.4m0.5,0h0.4M6.2,0h0.4m0.5,0h0.4m0.5,0h0.4m0.5,0h0.4m0.5,0h0.4m0.5,0h0.4m0.5,0h0.4m0.5,0h0.4M3.35,-1.1L6.15,-1.1L4.75,1.3Z",
    "M-3.25,0H-1.75M-1,0H0.5M1.25,0H2.75M6.2,0H7.7M8.45,0H9.95M10.7,0H12.2M3.35,1.1L6.15,1.1L4.75,-1.3Z"]},
    "legend":{"title":null,"orient":"none","legendX":343,"legendY":11,"labelOffset":51}}}},
  {"data":{"values":[{}]},
   "encoding":{"x":{"datum":"La","type":"ordinal"}},
   "layer":[
    {"mark":{"type":"text","fontWeight":"bold","fontSize":26,"dx":-27},"encoding":{"y":{"datum":558,"type":"quantitative"},"text":{"value":"(f) Seamounts (SEA)"}}},
    {"mark":{"type":"text","dx":-27},"encoding":{"y":{"datum":6.2,"type":"quantitative"},"text":{"value":"n = 6"}}},
    {"mark":{"type":"text","dx":-27,"dy":30,"lineHeight":37},"encoding":{"y":{"datum":6.2,"type":"quantitative"},"text":{"value":["[La/Yb]","[Sm/Yb]"]}}},
    {"mark":{"type":"text","fontSize":15,"dx":59.5,"dy":37},"encoding":{"y":{"datum":6.2,"type":"quantitative"},"text":{"value":"N"}}},
    {"mark":{"type":"text","fontSize":15,"dx":70,"dy":74},"encoding":{"y":{"datum":6.2,"type":"quantitative"},"text":{"value":"N"}}},
    {"mark":{"type":"text","dx":74,"dy":30},"encoding":{"y":{"datum":6.2,"type":"quantitative"},"text":{"value":"= 11.7 - 18.2"}}},
    {"mark":{"type":"text","dx":85,"dy":67},"encoding":{"y":{"datum":6.2,"type":"quantitative"},"text":{"value":"= 3.8 - 5.8"}}}
   ]}
 ]
}
]
}
